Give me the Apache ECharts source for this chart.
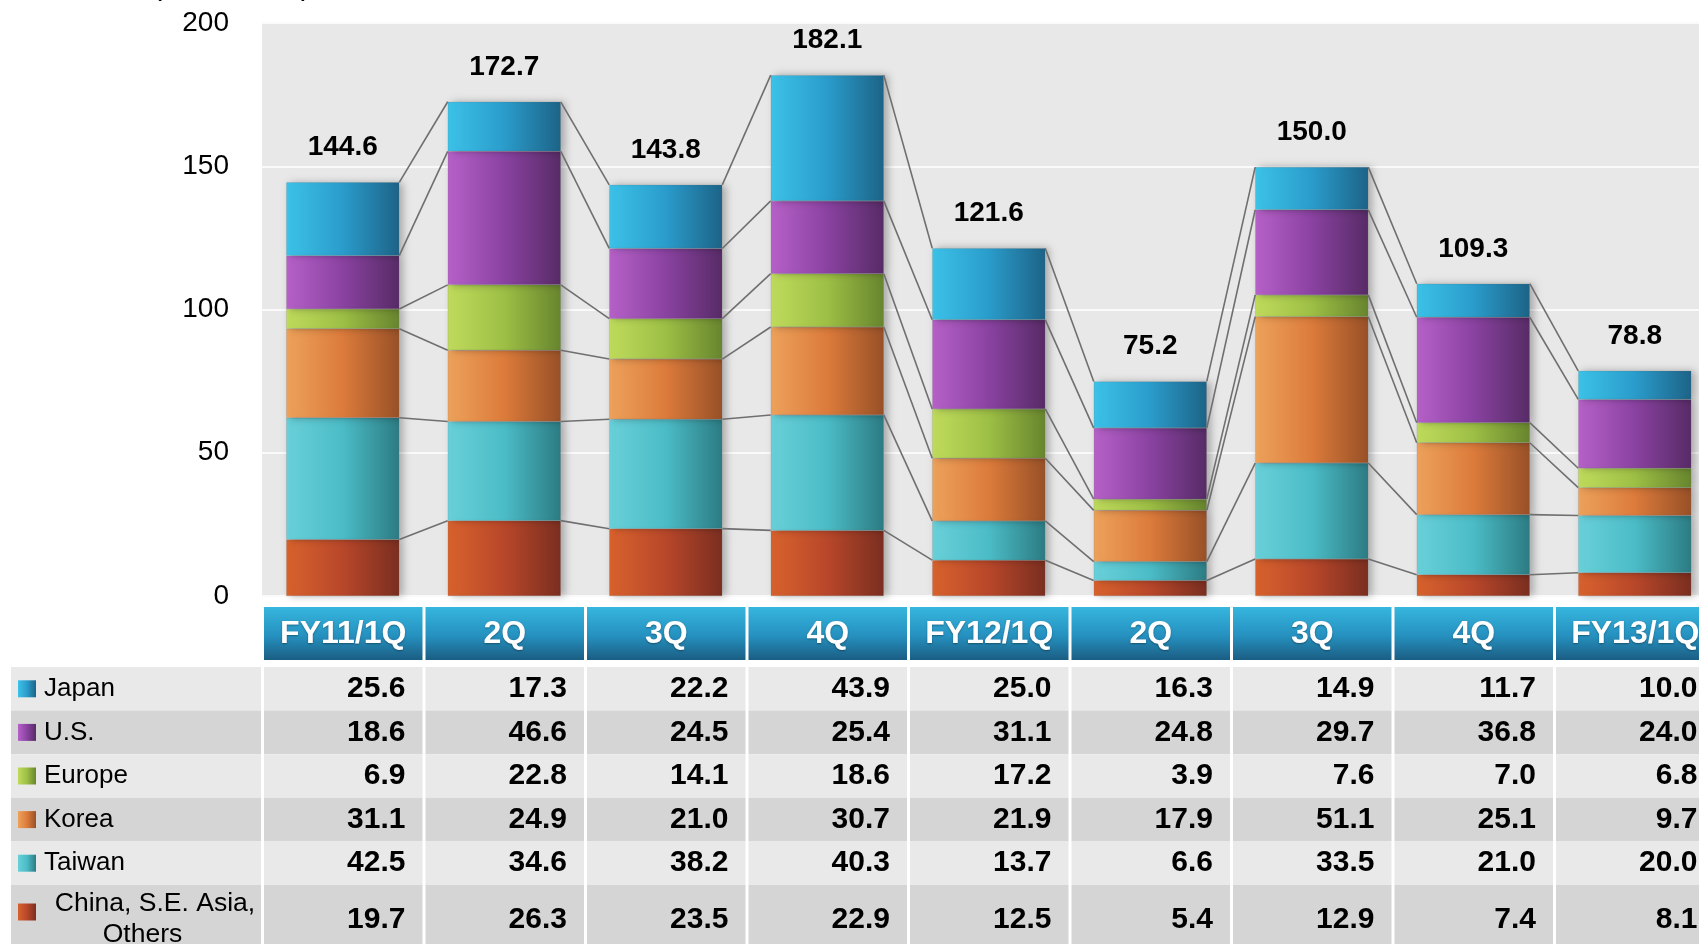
<!DOCTYPE html>
<html>
<head>
<meta charset="utf-8">
<script src="https://cdn.jsdelivr.net/npm/echarts@6/dist/echarts.min.js"></script>
<style>
  html, body { margin: 0; padding: 0; background: #ffffff; }
  #main { width: 1699px; height: 944px; }
</style>
</head>
<body>
<div id="main"></div>
<script>
// Quarterly sales by region (billion yen)
const categories = ['FY11/1Q', '2Q', '3Q', '4Q', 'FY12/1Q', '2Q', '3Q', '4Q', 'FY13/1Q'];
const japan  = [25.6, 17.3, 22.2, 43.9, 25.0, 16.3, 14.9, 11.7, 10.0];
const us     = [18.6, 46.6, 24.5, 25.4, 31.1, 24.8, 29.7, 36.8, 24.0];
const europe = [6.9, 22.8, 14.1, 18.6, 17.2, 3.9, 7.6, 7.0, 6.8];
const korea  = [31.1, 24.9, 21.0, 30.7, 21.9, 17.9, 51.1, 25.1, 9.7];
const taiwan = [42.5, 34.6, 38.2, 40.3, 13.7, 6.6, 33.5, 21.0, 20.0];
const china  = [19.7, 26.3, 23.5, 22.9, 12.5, 5.4, 12.9, 7.4, 8.1];
const totals = [144.6, 172.7, 143.8, 182.1, 121.6, 75.2, 150.0, 109.3, 78.8];
const yTicks = [0, 50, 100, 150, 200];
const unitLabel = '(Billion Yen)';

// Stack order, bottom to top
const stackOrder = [
  { name: 'China, S.E. Asia, Others', values: china },
  { name: 'Taiwan', values: taiwan },
  { name: 'Korea', values: korea },
  { name: 'Europe', values: europe },
  { name: 'U.S.', values: us },
  { name: 'Japan', values: japan }
];
// Table rows, top to bottom
const tableRows = stackOrder.slice().reverse();

// Left-to-right gradient stops per region
const palette = {
  'Japan':  ['#3cc2e8', '#2a9ccb', '#1d6387'],
  'U.S.':   ['#b661c8', '#8a42a1', '#572b66'],
  'Europe': ['#bfdb5c', '#9dbf45', '#67852e'],
  'Korea':  ['#eda25b', '#dc7b3b', '#985027'],
  'Taiwan': ['#69d0d9', '#4bbcc6', '#2c7b83'],
  'China, S.E. Asia, Others': ['#d8622d', '#b8472a', '#7a2e20']
};
function hGrad(stops) {
  return new echarts.graphic.LinearGradient(0, 0, 1, 0, [
    { offset: 0, color: stops[0] },
    { offset: 0.5, color: stops[1] },
    { offset: 1, color: stops[2] }
  ]);
}

const FONT = '"Liberation Sans", Arial, sans-serif';
const BAR_RATIO = 0.7;

// Table layout
const HEADER_TOP = 607, HEADER_H = 53;
const ROW_TOP = 667, ROW_H = 43.6, LAST_ROW_H = 70;
const LEGEND_X = 11, LEGEND_W = 250;
function rowTop(r) { return ROW_TOP + r * ROW_H; }
function rowHeight(r) { return r === tableRows.length - 1 ? LAST_ROW_H : ROW_H; }
function rowFill(r) { return r % 2 === 0 ? '#e9e9e9' : '#d5d5d5'; }
function rowTextY(r) { return r === tableRows.length - 1 ? rowTop(r) + 35 : rowTop(r) + ROW_H / 2; }

// Cumulative boundaries of each stack for the connector lines
const cumulative = categories.map((_, i) => {
  let s = 0;
  return stackOrder.map(reg => (s += reg.values[i]));
});

const connectorData = [];
for (let i = 0; i < categories.length - 1; i++) {
  for (let k = 0; k < stackOrder.length; k++) connectorData.push([i, k]);
}

const tableData = [];
for (let r = -1; r < tableRows.length; r++) {
  for (let c = 0; c < categories.length; c++) tableData.push([c, r]);
}

const headerFill = new echarts.graphic.LinearGradient(0, 0, 0, 1, [
  { offset: 0, color: '#36b6de' },
  { offset: 0.55, color: '#2590bf' },
  { offset: 1, color: '#1b5d82' }
]);

const series = stackOrder.map(reg => ({
  name: reg.name,
  type: 'bar',
  stack: 'sales',
  data: reg.values,
  barWidth: '70%',
  barGap: '-100%',
  itemStyle: {
    color: hGrad(palette[reg.name]),
    borderColor: 'rgba(110,110,110,0.35)',
    borderWidth: 0.5,
    shadowBlur: 8,
    shadowOffsetX: 4,
    shadowColor: 'rgba(0,0,0,0.28)'
  },
  z: 2
}));

// Totals above each stack
series.push({
  name: 'Total',
  type: 'bar',
  data: totals,
  barWidth: '70%',
  barGap: '-100%',
  silent: true,
  itemStyle: { color: 'rgba(0,0,0,0)' },
  label: {
    show: true,
    position: 'top',
    distance: 20,
    formatter: p => totals[p.dataIndex].toFixed(1),
    fontFamily: FONT,
    fontSize: 28,
    fontWeight: 'bold',
    color: '#000'
  },
  z: 1
});

// Lines joining the same boundary of neighbouring stacks
series.push({
  type: 'custom',
  silent: true,
  z: 4,
  clip: false,
  data: connectorData,
  renderItem: function (params, api) {
    const i = api.value(0), k = api.value(1);
    const half = api.size([1, 0])[0] * BAR_RATIO / 2;
    const a = api.coord([i, cumulative[i][k]]);
    const b = api.coord([i + 1, cumulative[i + 1][k]]);
    return {
      type: 'line',
      shape: { x1: a[0] + half, y1: a[1], x2: b[0] - half, y2: b[1] },
      style: { stroke: '#6f6f6f', lineWidth: 1.6 }
    };
  }
});

// Data table under the chart: header row plus one row per region
series.push({
  type: 'custom',
  silent: true,
  z: 5,
  clip: false,
  data: tableData,
  renderItem: function (params, api) {
    const c = api.value(0), r = api.value(1);
    const cx = api.coord([c, 0])[0];
    const band = api.size([1, 0])[0];
    const x0 = cx - band / 2 + 2, w = band - 3;
    if (r < 0) {
      return {
        type: 'group',
        children: [
          { type: 'rect', shape: { x: x0, y: HEADER_TOP, width: w, height: HEADER_H }, style: { fill: headerFill } },
          { type: 'text', style: {
              text: categories[c], x: x0 + w / 2, y: HEADER_TOP + HEADER_H / 2 + 1,
              align: 'center', verticalAlign: 'middle', fill: '#ffffff',
              fontFamily: FONT, fontSize: 32, fontWeight: 'bold',
              textShadowColor: 'rgba(0,0,0,0.35)', textShadowBlur: 2, textShadowOffsetY: 1
          } }
        ]
      };
    }
    return {
      type: 'group',
      children: [
        { type: 'rect', shape: { x: x0, y: rowTop(r), width: w, height: rowHeight(r) }, style: { fill: rowFill(r) } },
        { type: 'text', style: {
            text: tableRows[r].values[c].toFixed(1), x: x0 + w - 17, y: rowTextY(r),
            align: 'right', verticalAlign: 'middle', fill: '#000',
            fontFamily: FONT, fontSize: 30, fontWeight: 'bold'
        } }
      ]
    };
  }
});

// Legend column of the table
const legendChildren = [];
tableRows.forEach((reg, r) => {
  const last = r === tableRows.length - 1;
  legendChildren.push({
    type: 'rect',
    shape: { x: LEGEND_X, y: rowTop(r), width: LEGEND_W, height: rowHeight(r) },
    style: { fill: rowFill(r) }
  });
  const sqY = last ? rowTop(r) + 27 : rowTop(r) + ROW_H / 2;
  legendChildren.push({
    type: 'rect',
    shape: { x: 18, y: sqY - 8.5, width: 18, height: 17 },
    style: { fill: hGrad(palette[reg.name]) }
  });
  if (last) {
    legendChildren.push({
      type: 'text',
      style: {
        text: 'China, S.E. Asia,', x: 155, y: rowTop(r) + 18.5,
        align: 'center', verticalAlign: 'middle',
        fill: '#000', fontFamily: FONT, fontSize: 26.5
      }
    });
    legendChildren.push({
      type: 'text',
      style: {
        text: 'Others', x: 142.5, y: rowTop(r) + 49.5,
        align: 'center', verticalAlign: 'middle',
        fill: '#000', fontFamily: FONT, fontSize: 26.5
      }
    });
  } else {
    legendChildren.push({
      type: 'text',
      style: {
        text: reg.name, x: 44, y: rowTop(r) + ROW_H / 2,
        align: 'left', verticalAlign: 'middle',
        fill: '#000', fontFamily: FONT, fontSize: 26
      }
    });
  }
});

const option = {
  animation: false,
  backgroundColor: '#ffffff',
  textStyle: { fontFamily: FONT },
  grid: {
    left: 262, top: 23, width: 1453.5, height: 573,
    outerBoundsMode: 'none',
    containLabel: false,
    show: true, backgroundColor: '#e8e8e8', borderWidth: 0
  },
  xAxis: {
    type: 'category',
    data: categories,
    axisLine: { show: false },
    axisTick: { show: false },
    axisLabel: { show: false },
    splitLine: { show: false }
  },
  yAxis: {
    type: 'value',
    min: yTicks[0],
    max: yTicks[yTicks.length - 1],
    interval: yTicks[1] - yTicks[0],
    axisLine: { show: false },
    axisTick: { show: false },
    axisLabel: { margin: 33, fontSize: 28, color: '#000', fontFamily: FONT },
    splitLine: { lineStyle: { color: '#fafafa', width: 2 } }
  },
  graphic: [
    {
      type: 'text', left: 152, top: -28, silent: true,
      style: { text: unitLabel, fill: '#000', fontFamily: FONT, fontSize: 30 }
    },
    { type: 'group', silent: true, children: legendChildren }
  ],
  series: series
};

const chart = echarts.init(document.getElementById('main'), null, { renderer: 'canvas' });
chart.setOption(option);
</script>
</body>
</html>
